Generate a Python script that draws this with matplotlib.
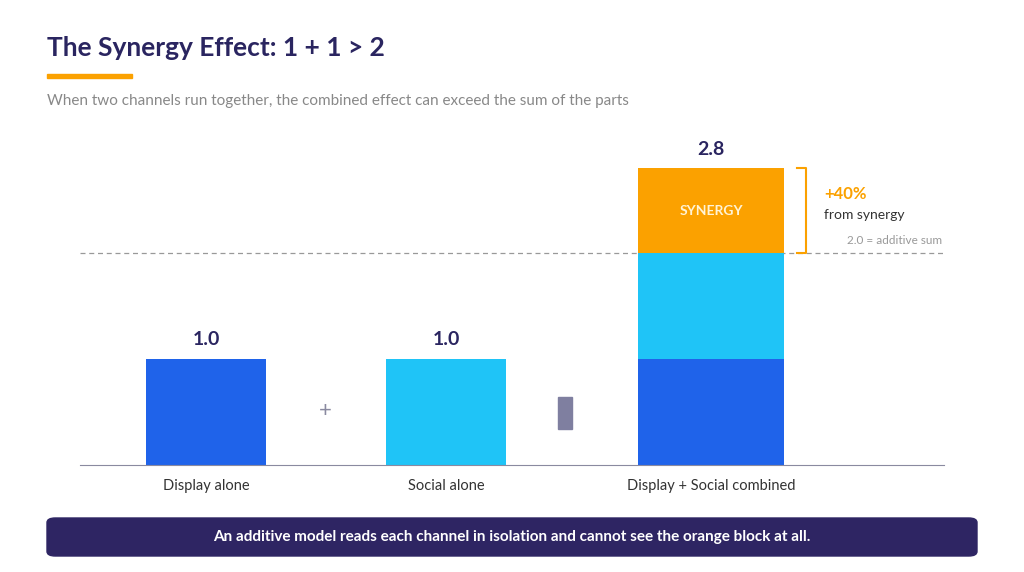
import matplotlib
matplotlib.use("Agg")
import matplotlib.pyplot as plt
from matplotlib.patches import Rectangle, FancyBboxPatch

categories = ["Display alone", "Social alone", "Display + Social combined"]
display_vals = [1.0, 0.0, 1.0]
social_vals = [0.0, 1.0, 1.0]
synergy_vals = [0.0, 0.0, 0.8]
totals = ["1.0", "1.0", "2.8"]
additive_sum = 2.0

W, H = 1024, 572
fig = plt.figure(figsize=(W/100, H/100), dpi=100)
plt.rcParams['font.family'] = ['Lato', 'DejaVu Sans']
NAVY = "#2a2560"
BLUE = "#1f63ea"
CYAN = "#1fc4f7"
ORANGE = "#fba100"

def fx(p): return p / W
def fy(p): return 1 - p / H

ax = fig.add_axes([fx(80), fy(465), (944-80)/W, (465-130)/H])
ax.set_xlim(80, 944)
ax.set_ylim(0, (465-130)/106)
xpos = [206, 446, 711]
widths = [120, 120, 146]
ax.bar(xpos, display_vals, width=widths, color=BLUE)
ax.bar(xpos, social_vals, width=widths, bottom=display_vals, color=CYAN)
bottoms = [d+s for d, s in zip(display_vals, social_vals)]
ax.bar(xpos, synergy_vals, width=widths, bottom=bottoms, color=ORANGE)
for x, d, s, g, t in zip(xpos, display_vals, social_vals, synergy_vals, totals):
    ax.text(x, d+s+g+0.1, t, ha='center', va='bottom', fontsize=14, color=NAVY, fontweight='bold')
ax.text(xpos[2], bottoms[2] + synergy_vals[2]/2, "SYNERGY", ha='center', va='center',
        color='#fff3d6', fontsize=10, fontweight='bold')
ax.axhline(additive_sum, color='#999999', ls=(0, (4, 3)), lw=0.9, zorder=0)
for s in ['top', 'right', 'left']:
    ax.spines[s].set_visible(False)
ax.spines['bottom'].set_color('#8a8aa0')
ax.set_yticks([])
ax.set_xticks(xpos)
ax.set_xticklabels(categories, fontsize=10.5, color='#333333')
ax.tick_params(axis='x', length=0, pad=10)
# bracket
top = bottoms[2] + synergy_vals[2]
bx = 806
ax.plot([bx-9, bx, bx, bx-9], [top, top, additive_sum, additive_sum], color=ORANGE, lw=1.5, clip_on=False)
ax.text(824, 2.56, "+40%", color=ORANGE, fontsize=12, fontweight='bold', va='center')
ax.text(824, 2.36, "from synergy", color='#333333', fontsize=10, va='center')
ax.text(942, 2.12, "2.0 = additive sum", color='#999999', fontsize=8.5, va='center', ha='right')

fig.text(fx(325), fy(411), "+", fontsize=16, color='#8a8aa0', ha='center', va='center')
fig.patches.append(Rectangle((fx(558), fy(429)), 14/W, 32/H, transform=fig.transFigure, color='#7f7fa0'))

fig.text(fx(47), fy(48), "The Synergy Effect: 1 + 1 > 2", fontsize=19, color=NAVY, fontweight='bold', va='center')
fig.patches.append(Rectangle((fx(47), fy(78)), 85/W, 4/H, transform=fig.transFigure, color=ORANGE))
fig.text(fx(47), fy(101), "When two channels run together, the combined effect can exceed the sum of the parts",
         fontsize=11, color='#888888', va='center')

fig.patches.append(FancyBboxPatch((fx(47), fy(556)), 930/W, 38/H, boxstyle="round,pad=0,rounding_size=0.008",
                                  transform=fig.transFigure, color='#2e2563'))
fig.text(fx(512), fy(537), "An additive model reads each channel in isolation and cannot see the orange block at all.",
         fontsize=11, color='white', fontweight='bold', ha='center', va='center')

fig.savefig("out.png", dpi=100, facecolor='white')
